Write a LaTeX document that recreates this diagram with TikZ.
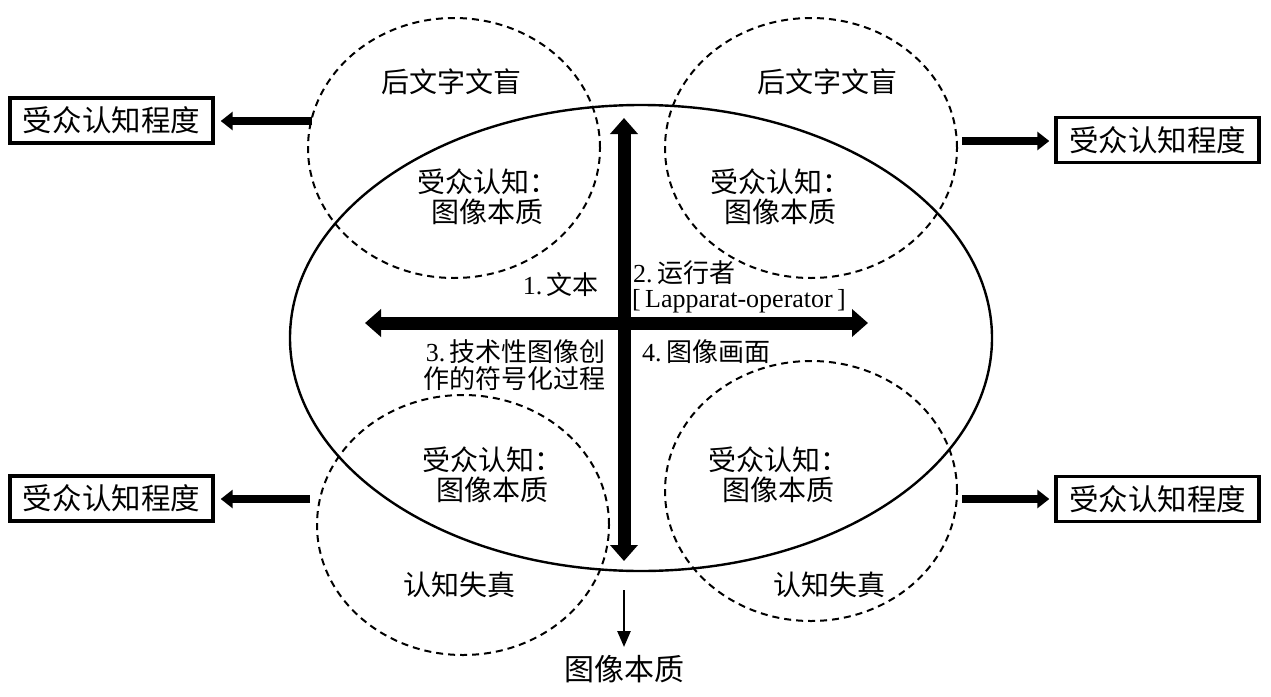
\documentclass[tikz,border=0pt]{standalone}
\usepackage{fontspec}
\setmainfont{Liberation Serif}
\newfontfamily\cjk{Noto Sans CJK SC}
\usetikzlibrary{arrows.meta,shapes.geometric}
\begin{document}
\begin{tikzpicture}[x=1pt,y=-1pt,
  bigell/.style={draw, line width=2.4pt, ellipse, inner sep=0pt, minimum width=702pt, minimum height=466pt},
  dashcirc/.style={draw, dash pattern=on 7pt off 5pt, line width=2pt, ellipse, inner sep=0pt, minimum width=292pt, minimum height=260pt},
  boxnode/.style={draw, line width=3.4pt, minimum width=203pt, minimum height=45pt, inner sep=0pt, font=\cjk\fontsize{29.5}{31}\selectfont},
  crossarrow/.style={line width=13pt, {Triangle[width=27pt,length=16pt]}-{Triangle[width=27pt,length=16pt]}},
  sidearrow/.style={line width=8pt, -{Triangle[width=18pt,length=12pt]}},
  thinarrow/.style={line width=2.6pt, -{Triangle[width=13pt,length=16pt]}},
  circtxt/.style={font=\cjk\fontsize{28}{30}\selectfont, align=center, inner sep=0pt},
  lbl/.style={font=\fontsize{26}{27}\selectfont, inner sep=0pt}
]
\useasboundingbox (0,0) rectangle (1271,696);

% main ellipse
\node[bigell] (E) at (641,338) {};

% dashed circles
\node[dashcirc] (TL) at (454,148) {};
\node[dashcirc] (TR) at (811,148) {};
\node[dashcirc] (BL) at (463,525) {};
\node[dashcirc] (BR) at (811,491) {};

% circle texts
\node[circtxt] (tlA) at (451,82) {后文字文盲};
\node[circtxt] (trA) at (827,82) {后文字文盲};
\node[circtxt] (tlB) at (487,197) {受众认知：\\图像本质};
\node[circtxt] (trB) at (780,197) {受众认知：\\图像本质};
\node[circtxt] (blB) at (492,475) {受众认知：\\图像本质};
\node[circtxt] (brB) at (778,475) {受众认知：\\图像本质};
\node[circtxt] (blC) at (459,585) {认知失真};
\node[circtxt] (brC) at (829,585) {认知失真};

% cross arrows
\coordinate (hL) at (365,323);
\coordinate (hR) at (868,323);
\coordinate (vT) at (624,118);
\coordinate (vB) at (624,561);
\draw[crossarrow] (hL) -- (hR);
\draw[crossarrow] (vB) -- (vT);

% center labels
\node[lbl, anchor=east] (l1) at (599,285) {1.\,{\cjk 文本}};
\node[lbl, anchor=west] (l2) at (633,273) {2.\,{\cjk 运行者}};
\node[lbl, anchor=west] (l2b) at (632,301) {[\,Lapparat-operator\,]};
\node[lbl, anchor=east, align=right] (l3) at (606,365) {3.\,{\cjk 技术性图像创}\\{\cjk 作的符号化过程}};
\node[lbl, anchor=west] (l4) at (642,352) {4.\,{\cjk 图像画面}};

% side boxes
\node[boxnode] (b1) at (111.5,120.5) {受众认知程度};
\node[boxnode] (b2) at (1157.5,140) {受众认知程度};
\node[boxnode] (b3) at (111.5,498.5) {受众认知程度};
\node[boxnode] (b4) at (1157.5,499) {受众认知程度};

\coordinate (s1) at (312,121);
\coordinate (s2) at (962,141);
\coordinate (s3) at (310,499);
\coordinate (s4) at (962,499);
\draw[sidearrow, shorten >=6pt] (s1) -- (b1.east |- s1);
\draw[sidearrow, shorten >=5pt] (s2) -- (b2.west |- s2);
\draw[sidearrow, shorten >=6pt] (s3) -- (b3.east |- s3);
\draw[sidearrow, shorten >=5pt] (s4) -- (b4.west |- s4);

% bottom output
\node[font=\cjk\fontsize{30}{32}\selectfont, inner sep=0pt] (out) at (624,669) {图像本质};
\coordinate (o1) at (624,590);
\draw[thinarrow, shorten >=8pt] (o1) -- (out.north);
\end{tikzpicture}
\end{document}
